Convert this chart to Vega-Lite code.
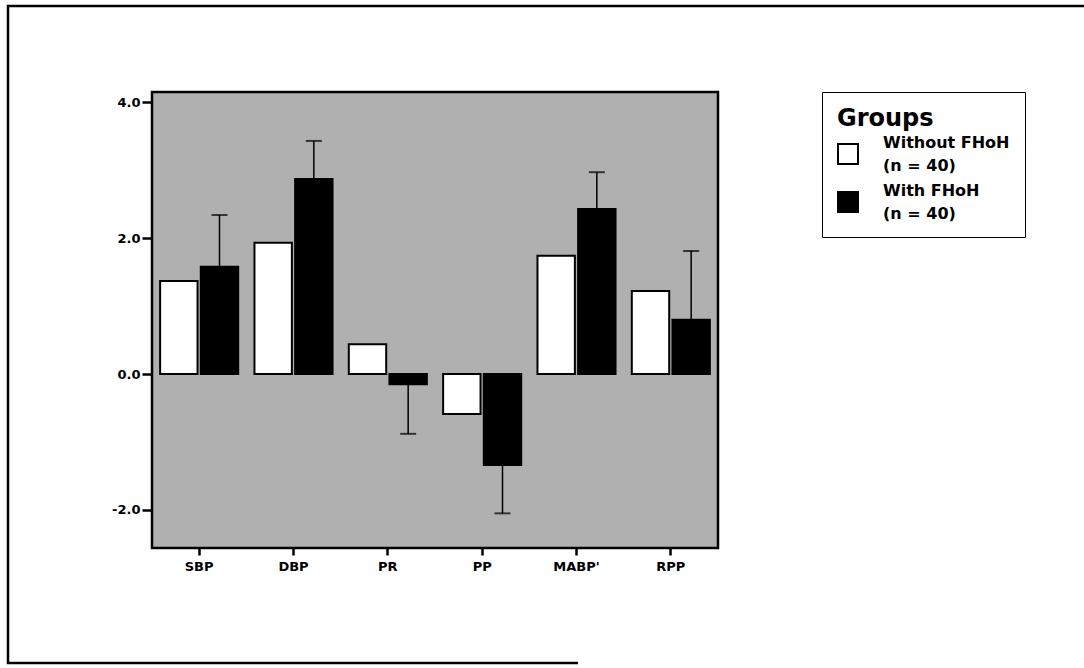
{
  "$schema": "https://vega.github.io/schema/vega-lite/v6.json",
  "width": 1076,
  "height": 657,
  "autosize": {"type": "none"},
  "padding": {"left": 8, "top": 6, "right": 0, "bottom": 5},
  "background": "white",
  "config": {"view": {"stroke": "black", "strokeWidth": 2.5, "strokeDash": [1076, 1163, 1227]}},
  "resolve": {"scale": {"x": "independent"}},
  "layer": [
    {
      "data": {"values": [{"panel": "plot"}]},
      "mark": {"type": "rect", "fill": "#b0b0b0", "stroke": "black", "strokeWidth": 2.5},
      "encoding": {
        "x": {"datum": 0, "type": "quantitative", "scale": {"domain": [0, 1], "range": [144, 710]}, "axis": null},
        "x2": {"datum": 1},
        "y": {
          "datum": -2.56, "type": "quantitative",
          "scale": {"domain": [-2.56, 4.15], "range": [542, 86], "nice": false, "zero": false},
          "axis": {
            "values": [-2, 0, 2, 4],
            "labelExpr": "(datum.value < 0 ? '-' : '') + format(abs(datum.value), '.1f')",
            "offset": -144,
            "domain": false, "grid": false, "title": null,
            "tickColor": "black", "tickWidth": 2.5, "tickSize": 10,
            "labelFont": "DejaVu Sans", "labelFontWeight": "bold", "labelFontSize": 13,
            "labelColor": "black", "labelPadding": 2
          }
        },
        "y2": {"datum": 4.15}
      }
    },
    {
      "data": {
        "values": [
          {"cat": "SBP", "group": "Without FHoH", "mean": 1.37, "err": null},
          {"cat": "SBP", "group": "With FHoH", "mean": 1.58, "err": 2.34},
          {"cat": "DBP", "group": "Without FHoH", "mean": 1.93, "err": null},
          {"cat": "DBP", "group": "With FHoH", "mean": 2.87, "err": 3.43},
          {"cat": "PR", "group": "Without FHoH", "mean": 0.44, "err": null},
          {"cat": "PR", "group": "With FHoH", "mean": -0.15, "err": -0.88},
          {"cat": "PP", "group": "Without FHoH", "mean": -0.59, "err": null},
          {"cat": "PP", "group": "With FHoH", "mean": -1.34, "err": -2.05},
          {"cat": "MABP'", "group": "Without FHoH", "mean": 1.74, "err": null},
          {"cat": "MABP'", "group": "With FHoH", "mean": 2.43, "err": 2.97},
          {"cat": "RPP", "group": "Without FHoH", "mean": 1.22, "err": null},
          {"cat": "RPP", "group": "With FHoH", "mean": 0.80, "err": 1.81}
        ]
      },
      "encoding": {
        "x": {
          "field": "cat", "type": "nominal",
          "scale": {"type": "band", "domain": ["SBP", "DBP", "PR", "PP", "MABP'", "RPP"], "range": [144, 710], "paddingInner": 0, "paddingOuter": 0},
          "axis": {
            "offset": -115, "labelAngle": 0, "domain": false, "grid": false, "title": null,
            "tickColor": "black", "tickWidth": 2.5, "tickSize": 7,
            "labelFont": "DejaVu Sans", "labelFontWeight": "bold", "labelFontSize": 13,
            "labelColor": "black", "labelPadding": 5
          }
        },
        "xOffset": {
          "field": "group", "type": "nominal",
          "scale": {"domain": ["Without FHoH", "With FHoH"], "paddingInner": 0.08, "paddingOuter": 0.2}
        }
      },
      "layer": [
        {
          "mark": {"type": "bar", "stroke": "black", "strokeWidth": 2},
          "encoding": {
            "y": {"field": "mean", "type": "quantitative"},
            "y2": {"datum": 0},
            "fill": {
              "field": "group", "type": "nominal",
              "scale": {"domain": ["Without FHoH", "With FHoH"], "range": ["white", "black"]},
              "legend": {
                "orient": "none", "legendX": 814, "legendY": 86,
                "title": "Groups",
                "titleFont": "DejaVu Sans", "titleFontWeight": "bold", "titleFontSize": 24, "titleColor": "black",
                "titlePadding": 12,
                "labelExpr": "[datum.label, '(n = 40)']",
                "labelFont": "DejaVu Sans", "labelFontWeight": "bold", "labelFontSize": 16, "labelColor": "black",
                "labelOffset": 24, "labelLimit": 0,
                "symbolType": "square", "symbolSize": 400, "symbolStrokeColor": "black", "symbolStrokeWidth": 2,
                "rowPadding": 9,
                "padding": 15, "strokeColor": "black", "fillColor": "white",
                "encode": {"labels": {"update": {"lineHeight": {"value": 23}, "dy": {"value": -11}}}}
              }
            }
          }
        },
        {
          "transform": [{"filter": "datum.err != null"}],
          "mark": {"type": "rule", "color": "black", "strokeWidth": 1.5},
          "encoding": {
            "y": {"field": "mean", "type": "quantitative"},
            "y2": {"field": "err"}
          }
        },
        {
          "transform": [{"filter": "datum.err != null"}],
          "mark": {"type": "tick", "color": "black", "thickness": 2, "size": 16, "orient": "horizontal"},
          "encoding": {
            "y": {"field": "err", "type": "quantitative"}
          }
        }
      ]
    }
  ]
}
